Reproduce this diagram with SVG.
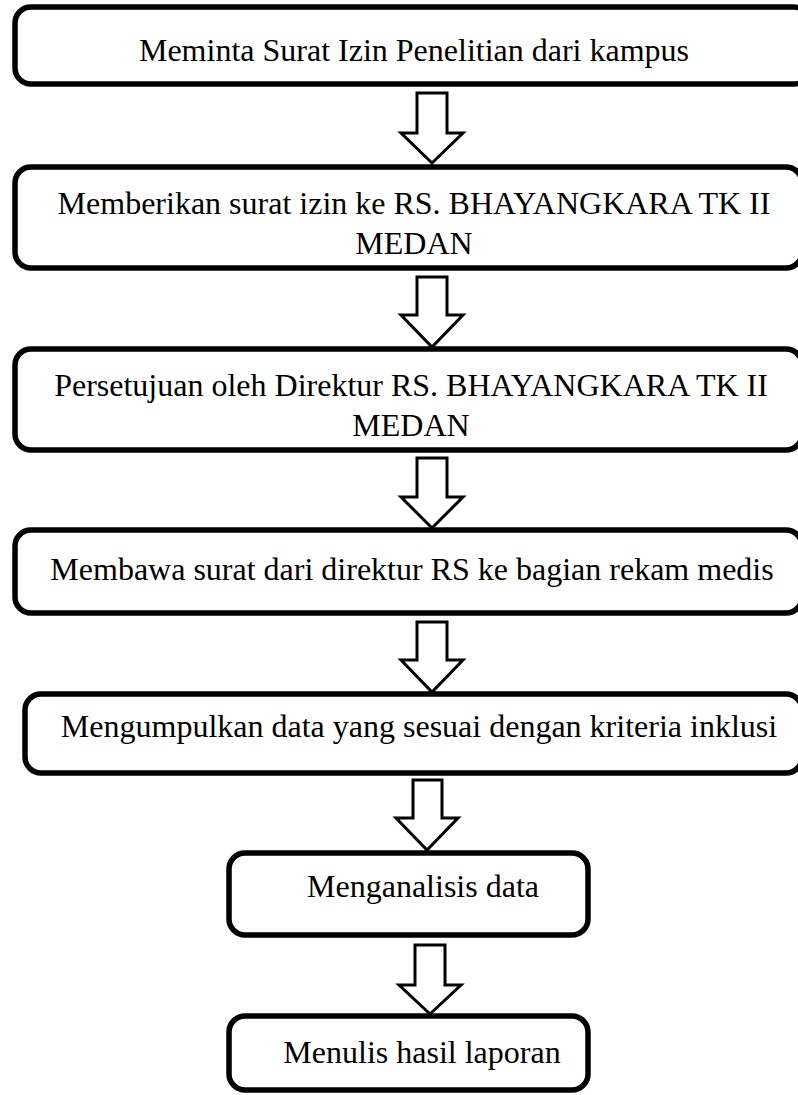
<svg xmlns="http://www.w3.org/2000/svg" width="798" height="1095" viewBox="0 0 798 1095">
<style>
.box{fill:#fff;stroke:#000;stroke-width:5.5}
.t{font-family:"Liberation Serif","Times New Roman",serif;font-size:32px;fill:#000;text-anchor:middle}
.arr{fill:#fff;stroke:#000;stroke-width:3;stroke-linejoin:miter}
</style>
<rect width="798" height="1095" fill="#fff"/>
<g id="n1"><rect class="box" x="15" y="7" width="795" height="77" rx="16"/><text class="t" x="414" y="61">Meminta Surat Izin Penelitian dari kampus</text></g>
<g id="n2"><rect class="box" x="15" y="167" width="787" height="101" rx="16"/><text class="t" x="414" y="214">Memberikan surat izin ke RS. BHAYANGKARA TK II</text><text class="t" x="414" y="254">MEDAN</text></g>
<g id="n3"><rect class="box" x="15" y="349" width="787" height="101" rx="16"/><text class="t" x="411" y="396">Persetujuan oleh Direktur RS. BHAYANGKARA TK II</text><text class="t" x="411" y="436">MEDAN</text></g>
<g id="n4"><rect class="box" x="15" y="530" width="787" height="83" rx="16"/><text class="t" x="412" y="580">Membawa surat dari direktur RS ke bagian rekam medis</text></g>
<g id="n5"><rect class="box" x="25" y="694" width="777" height="79" rx="16"/><text class="t" x="419" y="737">Mengumpulkan data yang sesuai dengan kriteria inklusi</text></g>
<g id="n6"><rect class="box" x="229" y="853" width="359" height="82" rx="16"/><text class="t" x="423" y="897">Menganalisis data</text></g>
<g id="n7"><rect class="box" x="229" y="1016" width="359" height="74" rx="16"/><text class="t" x="422" y="1063">Menulis hasil laporan</text></g>
<g id="connectors">
<polygon class="arr" points="417,93 447,93 447,133 463,133 432,163 401,133 417,133"/>
<polygon class="arr" points="417,277 447,277 447,315 463,315 432,347 401,315 417,315"/>
<polygon class="arr" points="417,458 447,458 447,497 463,497 432,528 401,497 417,497"/>
<polygon class="arr" points="417,622 447,622 447,660 463,660 432,692 401,660 417,660"/>
<polygon class="arr" points="413,780 442,780 442,818 458,818 427,850 396,818 413,818"/>
<polygon class="arr" points="415,945 445,945 445,985 461,985 430,1014 399,985 415,985"/>
</g>
</svg>
